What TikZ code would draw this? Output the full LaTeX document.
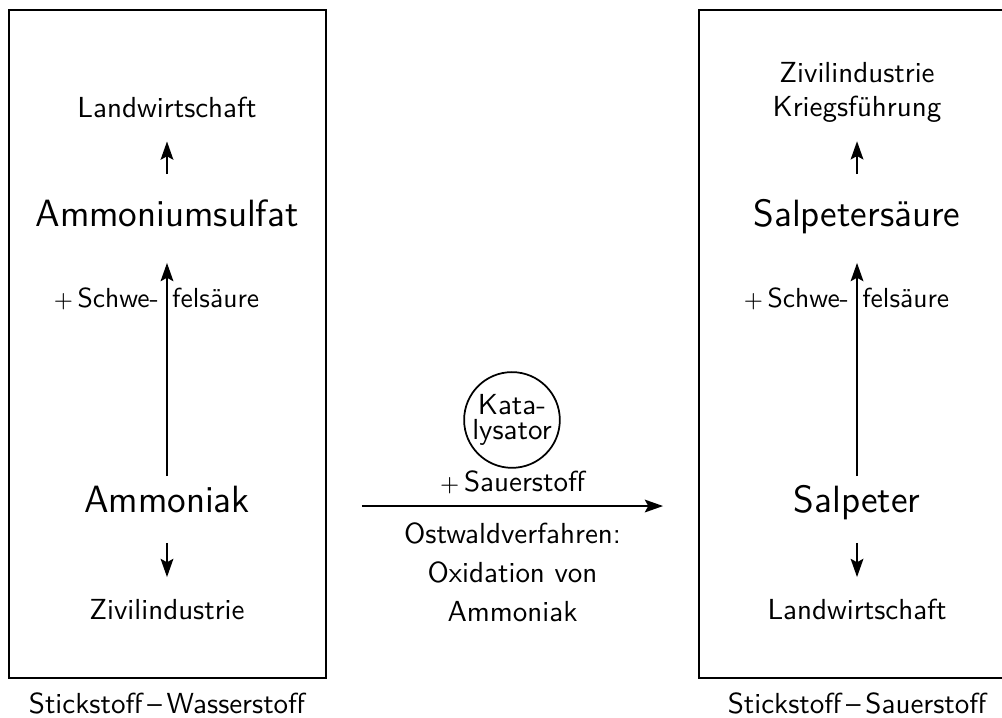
\documentclass[tikz,border=0pt]{standalone}
\usetikzlibrary{arrows.meta,positioning}

\newcommand{\zusatz}{{\fontsize{8.5}{10}\selectfont$+$}\,}

\begin{document}
\begin{tikzpicture}[
  font=\sffamily,
  line width=0.6pt,
  >={Stealth[length=6.3pt,width=4.4pt,inset=1.2pt]},
  field/.style={draw, minimum width=3.842cm, minimum height=8.096cm},
  stoff/.style={font=\sffamily\fontsize{13.1}{15.7}\selectfont, anchor=base,
    inner sep=0pt, text height=9.1pt, text depth=2.7pt},
  ziel/.style={anchor=base, inner sep=0pt, text height=7pt, text depth=2pt},
  feldname/.style={anchor=base, inner sep=0pt},
  saeurel/.style={font=\sffamily\fontsize{9.5}{11.5}\selectfont, inner sep=2.5pt}
]
  \useasboundingbox (0,0) rectangle (12.144,-8.690);

  % the two fields
  \node[field] (hfeld) at (2.030,-4.169) {};
  \node[field] (ofeld) at (10.393,-4.169) {};
  \node[feldname] (nameH) at (2.024,-8.642) {Stickstoff\,--\,Wasserstoff};
  \node[feldname] (nameO) at (10.387,-8.642) {Stickstoff\,--\,Sauerstoff};

  % left: nitrogen--hydrogen
  \node[ziel] (landwH) at (2.024,-1.430) {Landwirtschaft};
  \node[stoff] (sulfat) at (2.024,-2.751) {Ammoniumsulfat};
  \node[stoff] (ammoniak) at (2.024,-6.214) {Ammoniak};
  \node[ziel] (zivH) at (2.024,-7.514) {Zivilindustrie};

  \draw[->, shorten <=8.8pt, shorten >=5.8pt] (sulfat) -- (landwH);
  \draw[->, shorten <=3.2pt, shorten >=9.4pt] (ammoniak) -- (sulfat);
  \draw[->, shorten <=7.4pt, shorten >=7.5pt] (ammoniak) -- (zivH);
  \node[saeurel, anchor=base east] (schweH) at (2.024,-3.721) {\zusatz Schwe-};
  \node[saeurel, anchor=base west, inner sep=1.5pt] (felsH) at (2.024,-3.721) {felsäure};

  % right: nitrogen--oxygen
  \node[anchor=base, align=center, inner sep=0pt] (zivO) at (10.387,-1.418)
    {Zivilindustrie\\Kriegsführung};
  \node[stoff] (saeure) at (10.387,-2.751) {Salpetersäure};
  \node[stoff] (salpeter) at (10.387,-6.214) {Salpeter};
  \node[ziel] (landwO) at (10.387,-7.514) {Landwirtschaft};

  \draw[->, shorten <=8.8pt, shorten >=6pt] (saeure) -- (zivO);
  \draw[->, shorten <=3.2pt, shorten >=9.4pt] (salpeter) -- (saeure);
  \draw[->, shorten <=7.4pt, shorten >=7.5pt] (salpeter) -- (landwO);
  \node[saeurel, anchor=base east] (schweO) at (10.387,-3.721) {\zusatz Schwe-};
  \node[saeurel, anchor=base west, inner sep=1.5pt] (felsO) at (10.387,-3.721) {felsäure};

  % Ostwald process
  \node[draw, circle, minimum size=1.16cm, inner sep=0pt, align=center]
    (kat) at (6.205,-5.090) {Kata-\\[-3.4pt]lysator};
  \coordinate (ostA) at (4.387,-6.133);
  \coordinate (ostB) at (8.036,-6.133);
  \draw[->] (ostA) -- node[above, inner sep=4pt] (sauer) {\zusatz Sauerstoff}
    node[below, align=center, inner sep=5.5pt] (ostw)
    {Ostwaldverfahren:\\[1.4pt]Oxidation von\\[1.4pt]Ammoniak} (ostB);
\end{tikzpicture}
\end{document}
